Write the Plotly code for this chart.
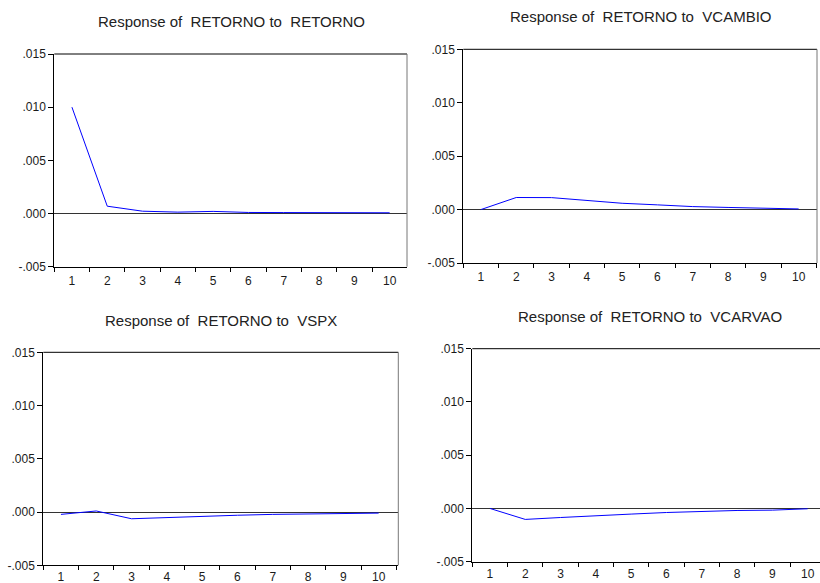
import plotly.graph_objects as go

# Impulse-response horizons and responses of RETORNO to each shock
periods = ["1", "2", "3", "4", "5", "6", "7", "8", "9", "10"]
resp_retorno = [0.0100, 0.00069, 0.00022, 0.00013, 0.00020, 0.00010, 0.00009, 0.00008, 0.00008, 0.00007]
resp_vcambio = [0.0, 0.00113, 0.00112, 0.00087, 0.00059, 0.00044, 0.00028, 0.00020, 0.00014, 0.00006]
resp_vspx = [-0.00022, 0.00010, -0.00063, -0.00050, -0.00040, -0.00030, -0.00022, -0.00020, -0.00013, -0.00010]
resp_vcarvao = [0.0, -0.00103, -0.00085, -0.00072, -0.00053, -0.00038, -0.00025, -0.00019, -0.00016, -0.00003]

titles = [
    "Response of  RETORNO to  RETORNO",
    "Response of  RETORNO to  VCAMBIO",
    "Response of  RETORNO to  VSPX",
    "Response of  RETORNO to  VCARVAO",
]
series = [resp_retorno, resp_vcambio, resp_vspx, resp_vcarvao]

y_tickvals = [-0.005, 0.0, 0.005, 0.010, 0.015]
y_ticktext = ["-.005", ".000", ".005", ".010", ".015"]

W, H = 820, 583
# panel boxes in pixels: (left, top, right, bottom)
boxes = [
    (54.3, 54.0, 407.0, 266.7),
    (463.3, 49.3, 817.0, 263.0),
    (43.3, 352.3, 398.3, 565.3),
    (472.3, 348.7, 820.0, 561.7),
]
title_pos = [(231.7, 21.7), (640.8, 16.7), (220.8, 320.7), (650.0, 316.7)]
label_standoff = [3, 3, 0, 1]
cat_width = 35.3

fig = go.Figure()
font_main = "Liberation Sans, Arial, sans-serif"

for i, (vals, box) in enumerate(zip(series, boxes)):
    n = i + 1
    xa = "x" if n == 1 else f"x{n}"
    ya = "y" if n == 1 else f"y{n}"
    l, t, r, b = box
    ncat = (r - l) / cat_width
    fig.add_trace(go.Scatter(
        x=periods, y=vals, mode="lines",
        line=dict(color="#0000FF", width=1),
        xaxis=xa, yaxis=ya, showlegend=False,
    ))
    xkey = "xaxis" if n == 1 else f"xaxis{n}"
    ykey = "yaxis" if n == 1 else f"yaxis{n}"
    fig.layout[xkey] = dict(
        domain=[l / W, r / W], anchor=ya, type="category",
        range=[-0.5, -0.5 + ncat], tickson="boundaries",
        ticks="outside", ticklen=4, tickcolor="#000", tickwidth=1,
        ticklabelstandoff=label_standoff[i],
        showline=True, linecolor="#000", linewidth=1,
        showgrid=False, zeroline=False, automargin=False,
        tickfont=dict(family=font_main, size=12, color="#1a1a1a"),
        fixedrange=True,
    )
    fig.layout[ykey] = dict(
        domain=[1 - b / H, 1 - t / H], anchor=xa,
        range=[-0.005, 0.015], tickvals=y_tickvals, ticktext=y_ticktext,
        ticks="outside", ticklen=5, tickcolor="#000", tickwidth=1,
        showline=True, linecolor="#000", linewidth=1,
        showgrid=False, zeroline=True, zerolinecolor="#333", zerolinewidth=1,
        automargin=False,
        tickfont=dict(family=font_main, size=12, color="#1a1a1a"),
        fixedrange=True,
    )
    # top border
    fig.add_shape(type="line", xref=f"{xa} domain", yref=f"{ya} domain",
                  x0=0, x1=1, y0=1, y1=1, line=dict(color="#000", width=1))
    # right border (the last panel runs past the page edge)
    if n != 4:
        fig.add_shape(type="line", xref=f"{xa} domain", yref=f"{ya} domain",
                      x0=1, x1=1, y0=0, y1=1, line=dict(color="#777", width=1))
    tx, ty = title_pos[i]
    fig.add_annotation(
        text=titles[i], xref="paper", yref="paper",
        x=tx / W, y=1 - ty / H, xanchor="center", yanchor="middle",
        showarrow=False,
        font=dict(family=font_main, size=15, color="#222"),
    )

fig.update_layout(
    width=W, height=H,
    margin=dict(l=0, r=0, t=0, b=0),
    paper_bgcolor="white", plot_bgcolor="white",
    showlegend=False,
)

fig.write_html("out.html", config={"displayModeBar": False})
